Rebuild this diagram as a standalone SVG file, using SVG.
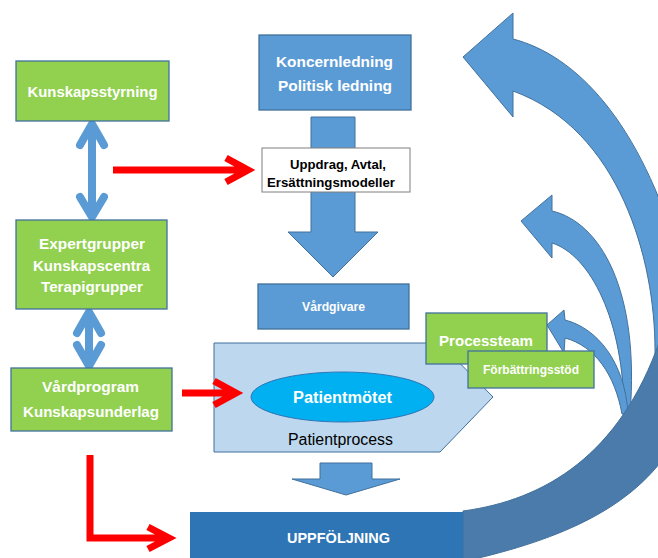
<svg xmlns="http://www.w3.org/2000/svg" width="658" height="558" viewBox="0 0 658 558">
<style>
text{font-family:"Liberation Sans",Arial,sans-serif;font-weight:bold;fill:#fff;text-anchor:middle}
.green{fill:#92D050;stroke:#41719C;stroke-width:1.3}
.blue{fill:#5B9BD5;stroke:#41719C;stroke-width:1.3}
.arr{fill:#5B9BD5;stroke:#41719C;stroke-width:1}
.dbl{fill:none;stroke:#5B9BD5;stroke-width:8;stroke-linejoin:round;stroke-linecap:round}
.red{fill:none;stroke:#FF0000;stroke-width:7;stroke-linejoin:miter}
.dark{fill:#000}
</style>
<rect width="658" height="558" fill="#fff"/>
<g id="patientprocess">
  <path d="M214,343 L440,343 L493,397 L440,452 L214,452 Z" fill="#BDD7EE" stroke="#41719C" stroke-width="1"/>
  <text x="340.5" y="445" font-size="16" textLength="105" lengthAdjust="spacingAndGlyphs" style="fill:#000;font-weight:normal">Patientprocess</text>
</g>
<g id="connectors">
  <!-- big curved feedback arrow (light face) -->
  <path class="arr" d="M463,57 L513,13 L513,39 C575,55 640,120 680,260 L680,400 L656,400 L655,350 C655,260 620,130 513,91 L513,117 Z"/>
  <!-- middle curved arrow -->
  <path class="arr" d="M521,221 L552,195 L552,211 C600,222 640,290 630,414 L624,414 C624,320 590,255 552,243 L552,258 Z"/>
  <!-- small curved arrow -->
  <path class="arr" d="M547,325 L564,310 L565,320 C597,328 625,362 628,414 L622,414 C615,375 595,346 565,338 L564,353 Z"/>
  <!-- dark underside of big arrow -->
  <path fill="#4A7BAA" stroke="#41719C" stroke-width="1" d="M463,511 C545,500 620,455 660,340 L660,463 C630,500 580,535 470,560 L463,560 Z"/>
  <!-- big down arrow -->
  <path class="arr" d="M311,117 L355,117 L355,232 L378,232 L333,277 L288,232 L311,232 Z"/>
  <!-- small down arrow -->
  <path class="arr" d="M320,463 L372,463 L372,479 L400,479 L346,495 L292,479 L320,479 Z"/>
  <!-- blue double arrows -->
  <path class="dbl" d="M92,126 L92,214 M80,145 L92,124 L104,145 M80,197 L92,217 L104,197"/>
  <path class="dbl" d="M89,313 L89,365 M77,333 L89,312 L101,333 M77,345 L89,366 L101,345"/>
  <!-- red arrows -->
  <path class="red" d="M113,170 L247,170 M226,158 L248,170 L226,182"/>
  <path class="red" d="M182,393 L234,393 M214,381 L236,393 L214,405"/>
  <path class="red" d="M90,455 L90,538 L168,538 M148,527 L169,538 L148,549"/>
</g>
<g id="kunskapsstyrning">
  <rect class="green" x="16" y="61" width="153" height="60"/>
  <text x="92.5" y="97" font-size="15" textLength="130" lengthAdjust="spacingAndGlyphs">Kunskapsstyrning</text>
</g>
<g id="expertgrupper">
  <rect class="green" x="16" y="220" width="151" height="89"/>
  <text x="92" y="249" font-size="15" textLength="106" lengthAdjust="spacingAndGlyphs">Expertgrupper</text>
  <text x="91.5" y="271" font-size="15" textLength="117" lengthAdjust="spacingAndGlyphs">Kunskapscentra</text>
  <text x="92" y="292" font-size="15" textLength="102" lengthAdjust="spacingAndGlyphs">Terapigrupper</text>
</g>
<g id="vardprogram">
  <rect class="green" x="11" y="368" width="161" height="63"/>
  <text x="90.5" y="392" font-size="15" textLength="97" lengthAdjust="spacingAndGlyphs">Vårdprogram</text>
  <text x="91" y="417" font-size="15" textLength="136" lengthAdjust="spacingAndGlyphs">Kunskapsunderlag</text>
</g>
<g id="koncernledning">
  <rect class="blue" x="259" y="35" width="152" height="75"/>
  <text x="334.5" y="67" font-size="15" textLength="117" lengthAdjust="spacingAndGlyphs">Koncernledning</text>
  <text x="335" y="91" font-size="15" textLength="114" lengthAdjust="spacingAndGlyphs">Politisk ledning</text>
</g>
<g id="uppdrag">
  <rect x="262" y="148" width="148" height="44" fill="#fff" stroke="#7F7F7F" stroke-width="1"/>
  <text class="dark" x="338" y="168.5" font-size="13" textLength="96" lengthAdjust="spacingAndGlyphs" style="fill:#000">Uppdrag, Avtal,</text>
  <text class="dark" x="331" y="186.5" font-size="13" textLength="128" lengthAdjust="spacingAndGlyphs" style="fill:#000">Ersättningsmodeller</text>
</g>
<g id="vardgivare">
  <rect class="blue" x="258" y="284" width="151" height="45"/>
  <text x="333.5" y="311" font-size="12" textLength="63" lengthAdjust="spacingAndGlyphs">Vårdgivare</text>
</g>
<g id="patientmotet">
  <ellipse cx="342.5" cy="397" rx="91.5" ry="25" fill="#00B0F0" stroke="#2E75B6" stroke-width="1"/>
  <text x="342.5" y="402.5" font-size="16" textLength="99" lengthAdjust="spacingAndGlyphs">Patientmötet</text>
</g>
<g id="processteam">
  <rect class="green" x="426" y="313" width="121" height="51"/>
  <text x="486" y="345.5" font-size="15" textLength="94" lengthAdjust="spacingAndGlyphs">Processteam</text>
</g>
<g id="forbattringsstod">
  <rect class="green" x="468" y="351" width="126" height="37"/>
  <text x="531" y="374" font-size="12" textLength="96" lengthAdjust="spacingAndGlyphs">Förbättringsstöd</text>
</g>
<g id="uppfoljning">
  <rect x="190" y="512" width="273" height="48" fill="#2E75B6"/>
  <text x="338.5" y="543" font-size="14.5" textLength="103" lengthAdjust="spacingAndGlyphs">UPPFÖLJNING</text>
</g>
</svg>
